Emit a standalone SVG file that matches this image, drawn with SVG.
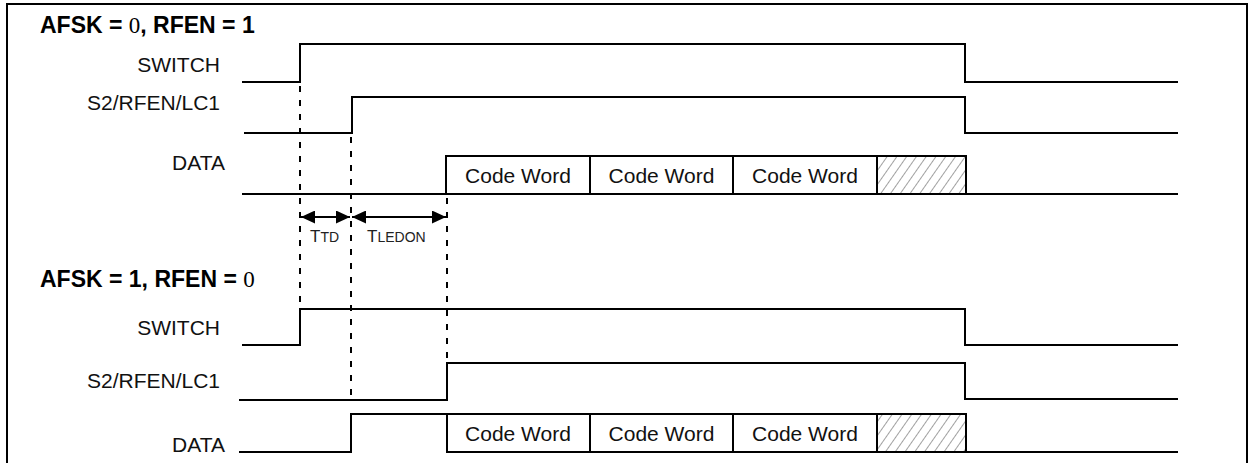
<svg xmlns="http://www.w3.org/2000/svg" width="1249" height="463" viewBox="0 0 1249 463">
  <style>
    .sig { fill: none; stroke: #000; stroke-width: 2; stroke-linejoin: miter; stroke-linecap: square; }
    .dash { fill: none; stroke: #000; stroke-width: 2; stroke-dasharray: 6 8; }
    .lbl { font-family: "Liberation Sans", Arial, sans-serif; font-size: 21px; fill: #111; }
    .title { font-family: "Liberation Sans", Arial, sans-serif; font-size: 23px; font-weight: bold; fill: #000; }
    .zero { font-family: "Liberation Serif", "Times New Roman", serif; font-weight: normal; }
    .cw { font-family: "Liberation Sans", Arial, sans-serif; font-size: 21px; fill: #111; text-anchor: middle; }
    .tbig { font-family: "Liberation Sans", Arial, sans-serif; font-size: 17px; fill: #222; }
    .tsmall { font-size: 14px; }
    .arr { fill: none; stroke: #000; stroke-width: 2; marker-start: url(#ah); marker-end: url(#ah); }
  </style>
  <defs>
    <marker id="ah" viewBox="0 0 14 13" refX="14" refY="6.5" markerWidth="14" markerHeight="13" markerUnits="userSpaceOnUse" orient="auto-start-reverse">
      <path d="M0,0 L14,6.5 L0,13 Z" fill="#000"/>
    </marker>
    <pattern id="hatch" patternUnits="userSpaceOnUse" width="8" height="8" patternTransform="rotate(35)">
      <line x1="0" y1="0" x2="0" y2="8" stroke="#444" stroke-width="1"/>
    </pattern>
  </defs>

  <rect width="1249" height="463" fill="#fff"/>
  <path id="frame" d="M7,463 V4 H1247 V463" fill="none" stroke="#000" stroke-width="2"/>

  <g id="section1">
    <text class="title" x="40" y="33">AFSK = <tspan class="zero">0</tspan>, RFEN = 1</text>
    <g id="s1-switch">
      <text class="lbl" x="220" y="72" text-anchor="end">SWITCH</text>
      <path class="sig" d="M243,82 H300 V44 H965 V82 H1177"/>
    </g>
    <g id="s1-s2">
      <text class="lbl" x="220" y="110" text-anchor="end">S2/RFEN/LC1</text>
      <path class="sig" d="M245,133 H352 V97 H965 V133 H1177"/>
    </g>
    <g id="s1-data">
      <text class="lbl" x="225" y="170" text-anchor="end">DATA</text>
      <rect x="877" y="156" width="89" height="38" fill="url(#hatch)"/>
      <path class="sig" d="M243,194 H1177 M446,194 V156 H966 V194 M590,156 V194 M733,156 V194 M877,156 V194"/>
      <text class="cw" x="518" y="183">Code Word</text>
      <text class="cw" x="661.5" y="183">Code Word</text>
      <text class="cw" x="805" y="183">Code Word</text>
    </g>
  </g>

  <g id="connectors">
    <line class="dash" x1="300" y1="86" x2="300" y2="306"/>
    <line class="dash" x1="351" y1="137" x2="351" y2="397"/>
    <line class="dash" x1="447" y1="198" x2="447" y2="358"/>
    <line class="arr" x1="301" y1="217" x2="350" y2="217"/>
    <line class="arr" x1="352" y1="217" x2="446" y2="217"/>
    <text class="tbig" x="310" y="242">T<tspan class="tsmall">TD</tspan></text>
    <text class="tbig" x="367" y="242">T<tspan class="tsmall">LEDON</tspan></text>
  </g>

  <g id="section2">
    <text class="title" x="40" y="287">AFSK = 1, RFEN = <tspan class="zero">0</tspan></text>
    <g id="s2-switch">
      <text class="lbl" x="220" y="335" text-anchor="end">SWITCH</text>
      <path class="sig" d="M243,345 H300 V309 H965 V345 H1177"/>
    </g>
    <g id="s2-s2">
      <text class="lbl" x="220" y="388" text-anchor="end">S2/RFEN/LC1</text>
      <path class="sig" d="M240,400 H447 V363 H965 V399 H1177"/>
    </g>
    <g id="s2-data">
      <text class="lbl" x="225" y="452" text-anchor="end">DATA</text>
      <rect x="877" y="414" width="89" height="38" fill="url(#hatch)"/>
      <path class="sig" d="M240,452 H351 V414 H966 V452 H1177 M447,414 V452 H966 M590,414 V452 M733,414 V452 M877,414 V452"/>
      <text class="cw" x="518" y="441">Code Word</text>
      <text class="cw" x="661.5" y="441">Code Word</text>
      <text class="cw" x="805" y="441">Code Word</text>
    </g>
  </g>
</svg>
